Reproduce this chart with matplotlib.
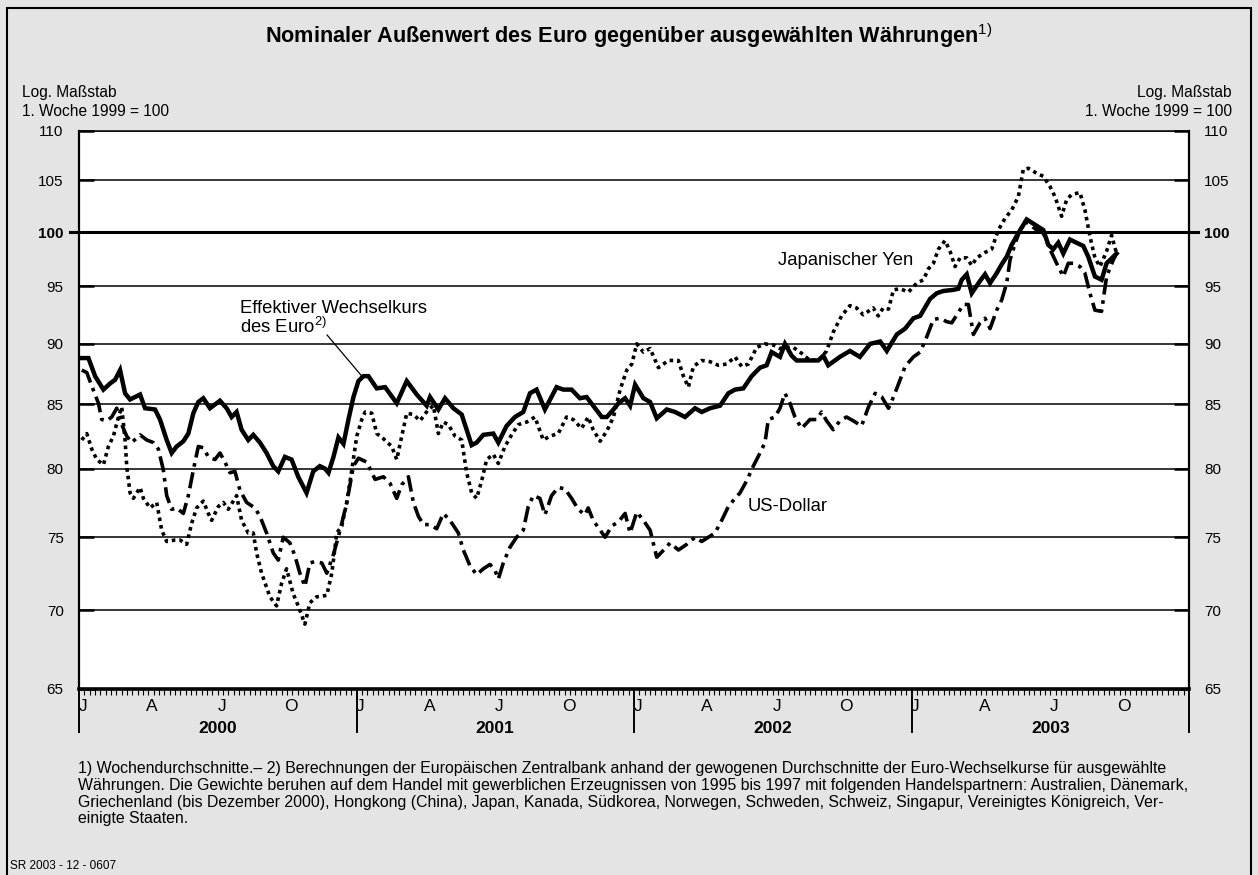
import numpy as np
import matplotlib
matplotlib.use('Agg')
import matplotlib.pyplot as plt
import matplotlib.patches as mpatches

plt.rcParams['font.family'] = ['Liberation Sans', 'DejaVu Sans']
plt.rcParams['mathtext.fontset'] = 'custom'
plt.rcParams['mathtext.rm'] = 'Liberation Sans'
plt.rcParams['mathtext.bf'] = 'Liberation Sans:bold'

# Wochenwerte, Zeit als Dezimaljahr, 1. Woche 1999 = 100
ewk_t = [2000.010, 2000.034, 2000.058, 2000.088, 2000.112, 2000.130, 2000.148, 2000.166, 2000.184, 2000.220,
         2000.238, 2000.274, 2000.292, 2000.316, 2000.334, 2000.352, 2000.376, 2000.394, 2000.412, 2000.430,
         2000.448, 2000.472, 2000.508, 2000.532, 2000.550, 2000.568, 2000.586, 2000.610, 2000.628, 2000.652,
         2000.676, 2000.700, 2000.718, 2000.742, 2000.766, 2000.790, 2000.820, 2000.844, 2000.868, 2000.887,
         2000.899, 2000.917, 2000.935, 2000.953, 2000.971, 2000.989, 2001.007, 2001.025, 2001.043, 2001.073,
         2001.103, 2001.145, 2001.181, 2001.217, 2001.253, 2001.265, 2001.295, 2001.319, 2001.349, 2001.379,
         2001.397, 2001.415, 2001.433, 2001.457, 2001.493, 2001.511, 2001.541, 2001.571, 2001.601, 2001.625,
         2001.649, 2001.679, 2001.721, 2001.745, 2001.775, 2001.805, 2001.829, 2001.853, 2001.884, 2001.902,
         2001.926, 2001.944, 2001.968, 2001.986, 2002.004, 2002.034, 2002.058, 2002.082, 2002.118, 2002.148,
         2002.184, 2002.220, 2002.244, 2002.274, 2002.310, 2002.340, 2002.364, 2002.394, 2002.424, 2002.454,
         2002.478, 2002.496, 2002.526, 2002.544, 2002.568, 2002.586, 2002.622, 2002.664, 2002.682, 2002.700,
         2002.742, 2002.778, 2002.814, 2002.851, 2002.887, 2002.911, 2002.947, 2002.977, 2003.007, 2003.031,
         2003.055, 2003.067, 2003.091, 2003.115, 2003.151, 2003.169, 2003.181, 2003.199, 2003.217, 2003.247,
         2003.265, 2003.283, 2003.307, 2003.325, 2003.343, 2003.361, 2003.385, 2003.415, 2003.445, 2003.475,
         2003.493, 2003.511, 2003.529, 2003.547, 2003.571, 2003.595, 2003.619, 2003.637, 2003.661, 2003.685,
         2003.703, 2003.727, 2003.739]
ewk_v = [88.8, 88.8, 87.3, 86.2, 86.7, 87.0, 87.8, 85.9, 85.4, 85.8,
         84.7, 84.6, 83.8, 82.2, 81.2, 81.7, 82.1, 82.7, 84.3, 85.2,
         85.5, 84.7, 85.3, 84.7, 84.0, 84.4, 83.0, 82.2, 82.6, 82.0,
         81.2, 80.2, 79.8, 80.9, 80.7, 79.4, 78.2, 79.8, 80.2, 80.0,
         79.7, 80.9, 82.4, 81.9, 83.8, 85.6, 86.9, 87.3, 87.3, 86.3,
         86.4, 85.1, 86.9, 85.8, 84.9, 85.6, 84.6, 85.5, 84.7, 84.2,
         83.0, 81.8, 82.0, 82.6, 82.7, 82.0, 83.3, 84.0, 84.4, 85.9,
         86.2, 84.6, 86.4, 86.2, 86.2, 85.5, 85.6, 84.9, 84.0, 84.0,
         84.6, 85.1, 85.5, 84.9, 86.6, 85.5, 85.2, 83.9, 84.6, 84.4,
         84.0, 84.7, 84.4, 84.7, 84.9, 85.9, 86.2, 86.3, 87.3, 88.0,
         88.2, 89.3, 88.9, 90.0, 89.0, 88.6, 88.6, 88.6, 89.0, 88.2,
         88.9, 89.4, 88.9, 90.0, 90.2, 89.4, 90.8, 91.3, 92.2, 92.4,
         93.4, 93.9, 94.4, 94.6, 94.7, 94.8, 95.6, 96.1, 94.4, 95.5,
         96.1, 95.3, 96.2, 97.0, 97.7, 98.8, 99.9, 101.2, 100.7, 100.2,
         98.8, 98.4, 99.0, 98.0, 99.3, 99.0, 98.7, 97.7, 95.9, 95.6,
         97.1, 97.7, 98.0]

yen_t = [2000.010, 2000.028, 2000.046, 2000.064, 2000.088, 2000.106, 2000.124, 2000.142, 2000.154, 2000.166,
         2000.172, 2000.184, 2000.196, 2000.220, 2000.232, 2000.256, 2000.280, 2000.298, 2000.316, 2000.346,
         2000.364, 2000.388, 2000.406, 2000.424, 2000.448, 2000.466, 2000.478, 2000.502, 2000.520, 2000.538,
         2000.568, 2000.586, 2000.610, 2000.628, 2000.640, 2000.658, 2000.688, 2000.712, 2000.730, 2000.748,
         2000.772, 2000.790, 2000.814, 2000.832, 2000.856, 2000.893, 2000.911, 2000.929, 2000.947, 2000.965,
         2000.983, 2001.001, 2001.019, 2001.031, 2001.055, 2001.073, 2001.097, 2001.127, 2001.145, 2001.163,
         2001.181, 2001.205, 2001.229, 2001.259, 2001.277, 2001.295, 2001.313, 2001.331, 2001.355, 2001.379,
         2001.397, 2001.415, 2001.433, 2001.451, 2001.469, 2001.493, 2001.511, 2001.535, 2001.559, 2001.583,
         2001.613, 2001.643, 2001.673, 2001.697, 2001.727, 2001.757, 2001.781, 2001.811, 2001.835, 2001.853,
         2001.878, 2001.902, 2001.926, 2001.950, 2001.974, 2001.992, 2002.010, 2002.034, 2002.058, 2002.088,
         2002.124, 2002.160, 2002.178, 2002.196, 2002.214, 2002.244, 2002.274, 2002.304, 2002.334, 2002.364,
         2002.388, 2002.412, 2002.442, 2002.472, 2002.502, 2002.526, 2002.550, 2002.574, 2002.604, 2002.634,
         2002.670, 2002.694, 2002.718, 2002.748, 2002.778, 2002.802, 2002.826, 2002.862, 2002.880, 2002.898,
         2002.917, 2002.935, 2002.959, 2002.989, 2003.019, 2003.043, 2003.061, 2003.079, 2003.097, 2003.121,
         2003.139, 2003.157, 2003.175, 2003.199, 2003.217, 2003.235, 2003.265, 2003.289, 2003.313, 2003.337,
         2003.361, 2003.385, 2003.403, 2003.421, 2003.451, 2003.475, 2003.499, 2003.517, 2003.541, 2003.559,
         2003.577, 2003.607, 2003.625, 2003.643, 2003.661, 2003.679, 2003.703, 2003.721, 2003.739]
yen_v = [82.2, 82.7, 81.5, 80.7, 80.3, 81.7, 82.5, 84.0, 84.8, 82.2,
         80.2, 78.2, 77.8, 78.6, 77.8, 77.1, 77.5, 75.5, 74.7, 74.8,
         74.8, 74.5, 76.0, 77.1, 77.6, 76.7, 76.2, 77.2, 77.5, 77.0,
         78.0, 76.2, 75.3, 75.3, 73.9, 72.5, 70.9, 70.3, 71.8, 72.8,
         71.1, 70.3, 69.1, 70.5, 70.9, 71.0, 72.5, 75.3, 75.8, 77.5,
         79.9, 82.5, 83.8, 84.4, 84.3, 82.7, 82.3, 81.7, 80.7, 82.5,
         84.3, 84.2, 83.7, 84.6, 84.9, 82.7, 83.6, 83.4, 82.5, 82.2,
         79.7, 78.2, 77.8, 79.1, 80.7, 81.1, 80.4, 81.7, 82.6, 83.4,
         83.6, 84.0, 82.2, 82.5, 82.7, 84.0, 83.8, 83.1, 84.0, 83.0,
         82.1, 82.9, 84.0, 86.2, 87.8, 88.3, 90.0, 89.3, 89.6, 88.0,
         88.6, 88.6, 87.3, 86.4, 88.1, 88.6, 88.5, 88.2, 88.3, 88.9,
         88.1, 88.3, 89.7, 90.0, 89.9, 89.6, 89.7, 89.7, 89.2, 88.6,
         88.7, 89.4, 91.0, 92.4, 93.3, 93.1, 92.5, 93.1, 92.4, 93.1,
         93.0, 94.7, 94.8, 94.5, 95.3, 95.6, 96.6, 97.1, 98.4, 99.2,
         98.2, 96.8, 97.6, 97.6, 96.9, 97.6, 98.1, 98.4, 100.2, 101.3,
         102.1, 103.4, 106.1, 106.2, 105.7, 105.4, 104.4, 103.4, 101.5, 103.1,
         103.6, 103.8, 102.1, 99.6, 97.6, 96.8, 98.2, 99.7, 98.0]

usd_t = [2000.010, 2000.028, 2000.046, 2000.070, 2000.082, 2000.100, 2000.118, 2000.136, 2000.154, 2000.172,
         2000.190, 2000.220, 2000.244, 2000.268, 2000.286, 2000.304, 2000.316, 2000.334, 2000.352, 2000.376,
         2000.394, 2000.412, 2000.430, 2000.448, 2000.466, 2000.490, 2000.508, 2000.526, 2000.544, 2000.562,
         2000.580, 2000.604, 2000.634, 2000.652, 2000.676, 2000.700, 2000.718, 2000.736, 2000.760, 2000.778,
         2000.796, 2000.814, 2000.832, 2000.850, 2000.875, 2000.893, 2000.917, 2000.941, 2000.965, 2000.989,
         2001.007, 2001.037, 2001.067, 2001.097, 2001.121, 2001.145, 2001.163, 2001.187, 2001.205, 2001.223,
         2001.241, 2001.265, 2001.289, 2001.313, 2001.337, 2001.367, 2001.385, 2001.409, 2001.433, 2001.457,
         2001.481, 2001.499, 2001.511, 2001.529, 2001.553, 2001.577, 2001.601, 2001.619, 2001.637, 2001.661,
         2001.679, 2001.703, 2001.727, 2001.751, 2001.775, 2001.799, 2001.823, 2001.835, 2001.853, 2001.878,
         2001.896, 2001.920, 2001.944, 2001.968, 2001.986, 2002.010, 2002.034, 2002.058, 2002.082, 2002.112,
         2002.130, 2002.160, 2002.190, 2002.220, 2002.244, 2002.268, 2002.292, 2002.316, 2002.340, 2002.364,
         2002.382, 2002.406, 2002.430, 2002.454, 2002.472, 2002.484, 2002.508, 2002.526, 2002.544, 2002.562,
         2002.580, 2002.604, 2002.634, 2002.658, 2002.676, 2002.694, 2002.718, 2002.742, 2002.766, 2002.790,
         2002.820, 2002.845, 2002.869, 2002.893, 2002.917, 2002.935, 2002.959, 2002.977, 2003.007, 2003.031,
         2003.055, 2003.079, 2003.103, 2003.127, 2003.145, 2003.169, 2003.187, 2003.205, 2003.223, 2003.247,
         2003.265, 2003.283, 2003.307, 2003.325, 2003.343, 2003.355, 2003.373, 2003.391, 2003.409, 2003.427,
         2003.451, 2003.475, 2003.499, 2003.523, 2003.547, 2003.565, 2003.583, 2003.607, 2003.625, 2003.643,
         2003.661, 2003.685, 2003.703, 2003.727, 2003.739]
usd_v = [87.8, 87.6, 86.5, 85.1, 83.8, 83.7, 84.0, 84.7, 83.4, 82.5,
         82.0, 82.6, 82.2, 82.0, 81.5, 79.9, 78.0, 77.0, 77.1, 76.7,
         78.0, 79.9, 81.7, 81.6, 80.9, 80.7, 81.2, 80.5, 79.7, 79.8,
         78.4, 77.5, 77.1, 76.5, 75.3, 73.9, 73.4, 75.0, 74.6, 73.7,
         72.5, 71.6, 73.2, 73.3, 73.2, 72.5, 73.8, 75.5, 77.5, 80.2,
         80.8, 80.5, 79.2, 79.4, 78.9, 77.8, 78.8, 79.4, 77.5, 76.5,
         75.9, 75.9, 75.6, 76.7, 76.2, 75.3, 74.1, 73.0, 72.4, 72.8,
         73.1, 72.7, 72.1, 73.2, 74.3, 75.0, 75.5, 77.2, 78.0, 77.8,
         76.6, 78.0, 78.6, 78.5, 77.8, 77.0, 76.6, 77.1, 76.2, 75.5,
         75.0, 75.8, 76.1, 76.7, 75.3, 76.8, 76.2, 75.5, 73.6, 74.2,
         74.6, 74.1, 74.5, 75.0, 74.7, 75.0, 75.3, 76.2, 77.2, 77.8,
         78.2, 79.1, 80.2, 81.2, 82.0, 83.8, 84.0, 84.7, 85.9, 85.1,
         84.0, 83.1, 83.8, 83.8, 84.4, 83.7, 83.0, 83.7, 84.0, 83.7,
         83.3, 84.8, 85.9, 85.6, 84.7, 85.6, 87.0, 88.1, 88.9, 89.3,
         90.6, 92.1, 92.2, 91.9, 91.8, 92.7, 93.4, 93.4, 90.8, 91.8,
         92.2, 91.3, 92.9, 93.8, 95.3, 97.4, 98.9, 100.2, 101.0, 100.7,
         100.2, 99.9, 98.4, 97.1, 95.9, 97.1, 97.1, 96.8, 96.2, 94.4,
         92.9, 92.8, 95.9, 97.4, 98.0]

y_ticks = [65, 70, 75, 80, 85, 90, 95, 100, 105, 110]
years = [2000, 2001, 2002, 2003]
quarter_letters = ['J', 'A', 'J', 'O']

bg = '#e4e4e4'
W, H = 1258, 875
fig = plt.figure(figsize=(W / 100, H / 100), dpi=100, facecolor=bg)

# Rahmen um die ganze Grafik
fig.patches.append(mpatches.Rectangle((7 / W, -0.01), (1251 - 7) / W, 1 - 8 / H + 0.01,
                                      transform=fig.transFigure, fill=False,
                                      edgecolor='black', lw=1.5))

ax = fig.add_axes([79 / W, 1 - 689 / H, (1189 - 79) / W, (689 - 131) / H])
ax.set_facecolor('white')
ax.set_yscale('log')
ax.set_ylim(65, 110)
ax.set_xlim(2000, 2004)

# Gitterlinien, 100 kräftiger und über die Achsen hinaus
for v in y_ticks:
    if v == 100:
        ax.plot([-0.008, 1.008], [v, v], color='black', lw=2.2,
                transform=ax.get_yaxis_transform(), clip_on=False, zorder=2)
    else:
        ax.axhline(v, color='black', lw=1.1, zorder=1)

ax.plot(ewk_t, ewk_v, color='black', lw=3.2, solid_joinstyle='miter', zorder=5)
ax.plot(yen_t, yen_v, color='black', lw=2.6, linestyle=(0, (1, 1.1)), zorder=4)
ax.plot(usd_t, usd_v, color='black', lw=2.6, linestyle=(0, (4.5, 1.6, 1, 1.6)), zorder=4)

# y-Achsen links und rechts
ax.set_yticks(y_ticks)
ax.yaxis.set_minor_locator(matplotlib.ticker.NullLocator())
ax.set_yticklabels([str(v) for v in y_ticks])
ax.tick_params(axis='y', which='major', direction='in', length=11, width=1.8,
               left=True, right=True, labelleft=True, labelright=True,
               labelsize=11, pad=11)
for t in ax.yaxis.get_major_ticks():
    if t.label1.get_text() == '100':
        t.label1.set_fontweight('bold')
        t.label2.set_fontweight('bold')

# x-Achse: Jahreslinien und Wochenstriche
ax.set_xticks(years + [2004])
ax.set_xticklabels([])
ax.set_xticks(np.arange(2000, 2004, 1 / 52), minor=True)
ax.tick_params(axis='x', which='major', direction='out', length=32, width=1.4)
ax.tick_params(axis='x', which='minor', direction='out', length=4, width=0.8)

for s in ['left', 'right']:
    ax.spines[s].set_linewidth(1.6)
ax.spines['top'].set_linewidth(1.1)
ax.spines['bottom'].set_linewidth(2.6)

xtr = ax.get_xaxis_transform()
for y in years:
    for q, letter in enumerate(quarter_letters):
        ax.text(y + q * 0.25 + 0.014, -0.031, letter, transform=xtr,
                ha='center', va='center', fontsize=12.5)
    ax.text(y + 0.5, -0.071, str(y), transform=xtr, ha='center', va='center',
            fontsize=12.5, fontweight='bold')

# Beschriftungen der Linien
ax.text(2000.58, 93.8, 'Effektiver Wechselkurs\ndes Euro$^{2)}$', ha='left', va='top',
        fontsize=13.3, linespacing=1.0)
ax.plot([2000.894, 2001.023], [90.75, 87.2], color='black', lw=0.9, zorder=6)
ax.text(2002.519, 96.9, 'Japanischer Yen', ha='left', va='baseline', fontsize=13.3)
ax.text(2002.411, 76.9, 'US-Dollar', ha='left', va='baseline', fontsize=13.3)

# Titel und Kopfzeilen
fig.text(0.5, 1 - 36 / H, 'Nominaler Außenwert des Euro gegenüber ausgewählten Währungen$^{1)}$',
         ha='center', va='center', fontsize=15.6, fontweight='bold')
fig.text(22 / W, 1 - 93 / H, 'Log. Maßstab', ha='left', va='center', fontsize=11.2)
fig.text(22 / W, 1 - 112 / H, '1. Woche 1999 = 100', ha='left', va='center', fontsize=11.2)
fig.text(1232 / W, 1 - 93 / H, 'Log. Maßstab', ha='right', va='center', fontsize=11.2)
fig.text(1232 / W, 1 - 112 / H, '1. Woche 1999 = 100', ha='right', va='center', fontsize=11.2)

footnote = ('1) Wochendurchschnitte.– 2) Berechnungen der Europäischen Zentralbank anhand der gewogenen '
            'Durchschnitte der Euro-Wechselkurse für ausgewählte\n'
            'Währungen. Die Gewichte beruhen auf dem Handel mit gewerblichen Erzeugnissen von 1995 bis 1997 '
            'mit folgenden Handelspartnern: Australien, Dänemark,\n'
            'Griechenland (bis Dezember 2000), Hongkong (China), Japan, Kanada, Südkorea, Norwegen, Schweden, '
            'Schweiz, Singapur, Vereinigtes Königreich, Ver-\n'
            'einigte Staaten.')
fig.text(78 / W, 1 - 761 / H, footnote, ha='left', va='top', fontsize=11.4, linespacing=1.15)
fig.text(10 / W, 1 - 866 / H, 'SR 2003 - 12 - 0607', ha='left', va='center', fontsize=8.5)

fig.savefig('out.png', dpi=100, facecolor=bg)
